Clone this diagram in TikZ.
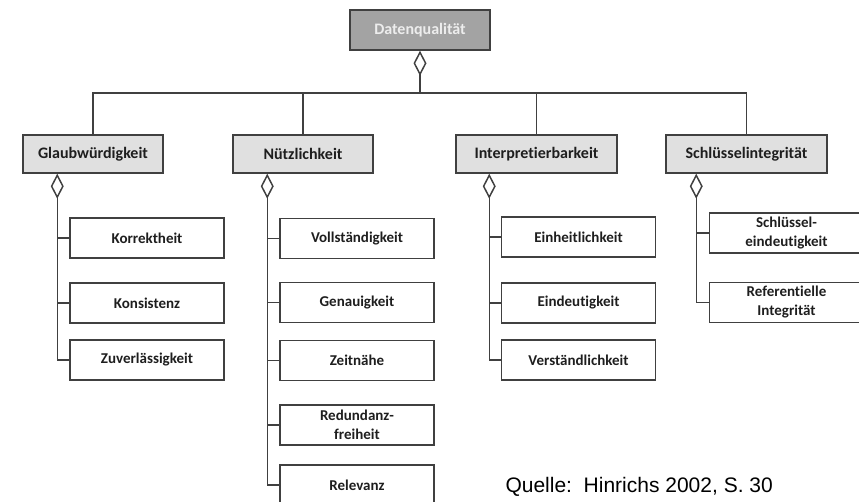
\documentclass[tikz,border=0pt]{standalone}
\usepackage{fontspec}
\setmainfont{Carlito}[Ligatures=NoCommon]
\newfontfamily\quellefont{Liberation Sans}
\usetikzlibrary{positioning,arrows.meta}
\definecolor{rahmen}{HTML}{404040}
\definecolor{kopfgrau}{HTML}{A3A3A3}
\definecolor{hellgrau}{HTML}{E0E0E0}
\definecolor{schrift}{HTML}{1E1E1E}

\begin{document}
\begin{tikzpicture}[x=1pt,y=-1pt,
    box/.style={draw=rahmen,line width=1.5pt,minimum height=40pt,inner sep=2pt,align=center,
      font=\bfseries\fontsize{15}{19}\selectfont,text=schrift},
    wurzel/.style={box,fill=kopfgrau,text=white!93!black,minimum width=140pt,
      font=\bfseries\fontsize{16}{19}\selectfont},
    haupt/.style={box,fill=hellgrau,minimum height=38pt,font=\bfseries\fontsize{16}{19}\selectfont},
    teil/.style={box,minimum width=154pt},
    linie/.style={draw=rahmen,line width=1.5pt},
    aggr/.style={linie,{Diamond[open,length=25pt,width=13pt]}-}]
  \useasboundingbox (0,0) rectangle (859,502);

  % Wurzel und Hauptkategorien
  \node[wurzel] (dq) at (420,30) {Datenqualität};
  \node[haupt,minimum width=140pt] (glaub) at (93,154) {Glaubwürdigkeit};
  \node[haupt,minimum width=140pt] (nutz) at (303,154) {Nützlichkeit};
  \node[haupt,minimum width=161pt] (interp) at (536.5,154) {Interpretierbarkeit};
  \node[haupt,minimum width=161pt] (schl) at (746.5,154) {Schlüsselintegrität};

  % Teilkriterien
  \node[teil] (korr) at (147,238) {Korrektheit};
  \node[teil] (kons) at (147,303) {Konsistenz};
  \node[teil] (zuv) at (147,360) {Zuverlässigkeit};

  \node[teil] (voll) at (357,238.5) {Vollständigkeit};
  \node[teil] (gen) at (357,302.5) {Genauigkeit};
  \node[teil] (zeit) at (357,360.5) {Zeitnähe};
  \node[teil] (red) at (357,425) {Redundanz-\\freiheit};
  \node[teil] (rel) at (357,485) {Relevanz};

  \node[teil] (einh) at (578.5,237) {Einheitlichkeit};
  \node[teil] (eind) at (578.5,303) {Eindeutigkeit};
  \node[teil] (verst) at (578.5,360) {Verständlichkeit};

  \node[teil] (schlue) at (786.5,233) {Schlüssel-\\eindeutigkeit};
  \node[teil] (ref) at (786.5,302.5) {Referentielle\\Integrität};

  \node[anchor=base west,text=black,font=\quellefont\fontsize{21}{25}\selectfont] (quelle)
    at (502,492) {Quelle:\ \ Hinrichs 2002, S.~30};

  % Verbindungen oben
  \coordinate (bus) at (420,93);
  \draw[aggr] (dq.south) -- (bus);
  \draw[linie] (glaub.north) |- (bus) -| (schl.north);
  \draw[linie] (nutz.north) -- (nutz.north |- bus);
  \draw[linie] (interp.north) -- (interp.north |- bus);

  % Aggregationen unten
  \coordinate (ga) at ([xshift=35pt]glaub.south west);
  \coordinate (na) at ([xshift=35pt]nutz.south west);
  \coordinate (ia) at ([xshift=34pt]interp.south west);
  \coordinate (sa) at ([xshift=31pt]schl.south west);

  \draw[aggr] (ga) |- (zuv.west);
  \foreach \k in {korr,kons} \draw[linie] (\k.west) -- (\k.west -| ga);
  \draw[aggr] (na) |- (rel.west);
  \foreach \k in {voll,gen,zeit,red} \draw[linie] (\k.west) -- (\k.west -| na);
  \draw[aggr] (ia) |- (verst.west);
  \foreach \k in {einh,eind} \draw[linie] (\k.west) -- (\k.west -| ia);
  \draw[aggr] (sa) |- (ref.west);
  \draw[linie] (schlue.west) -- (schlue.west -| sa);
\end{tikzpicture}
\end{document}
